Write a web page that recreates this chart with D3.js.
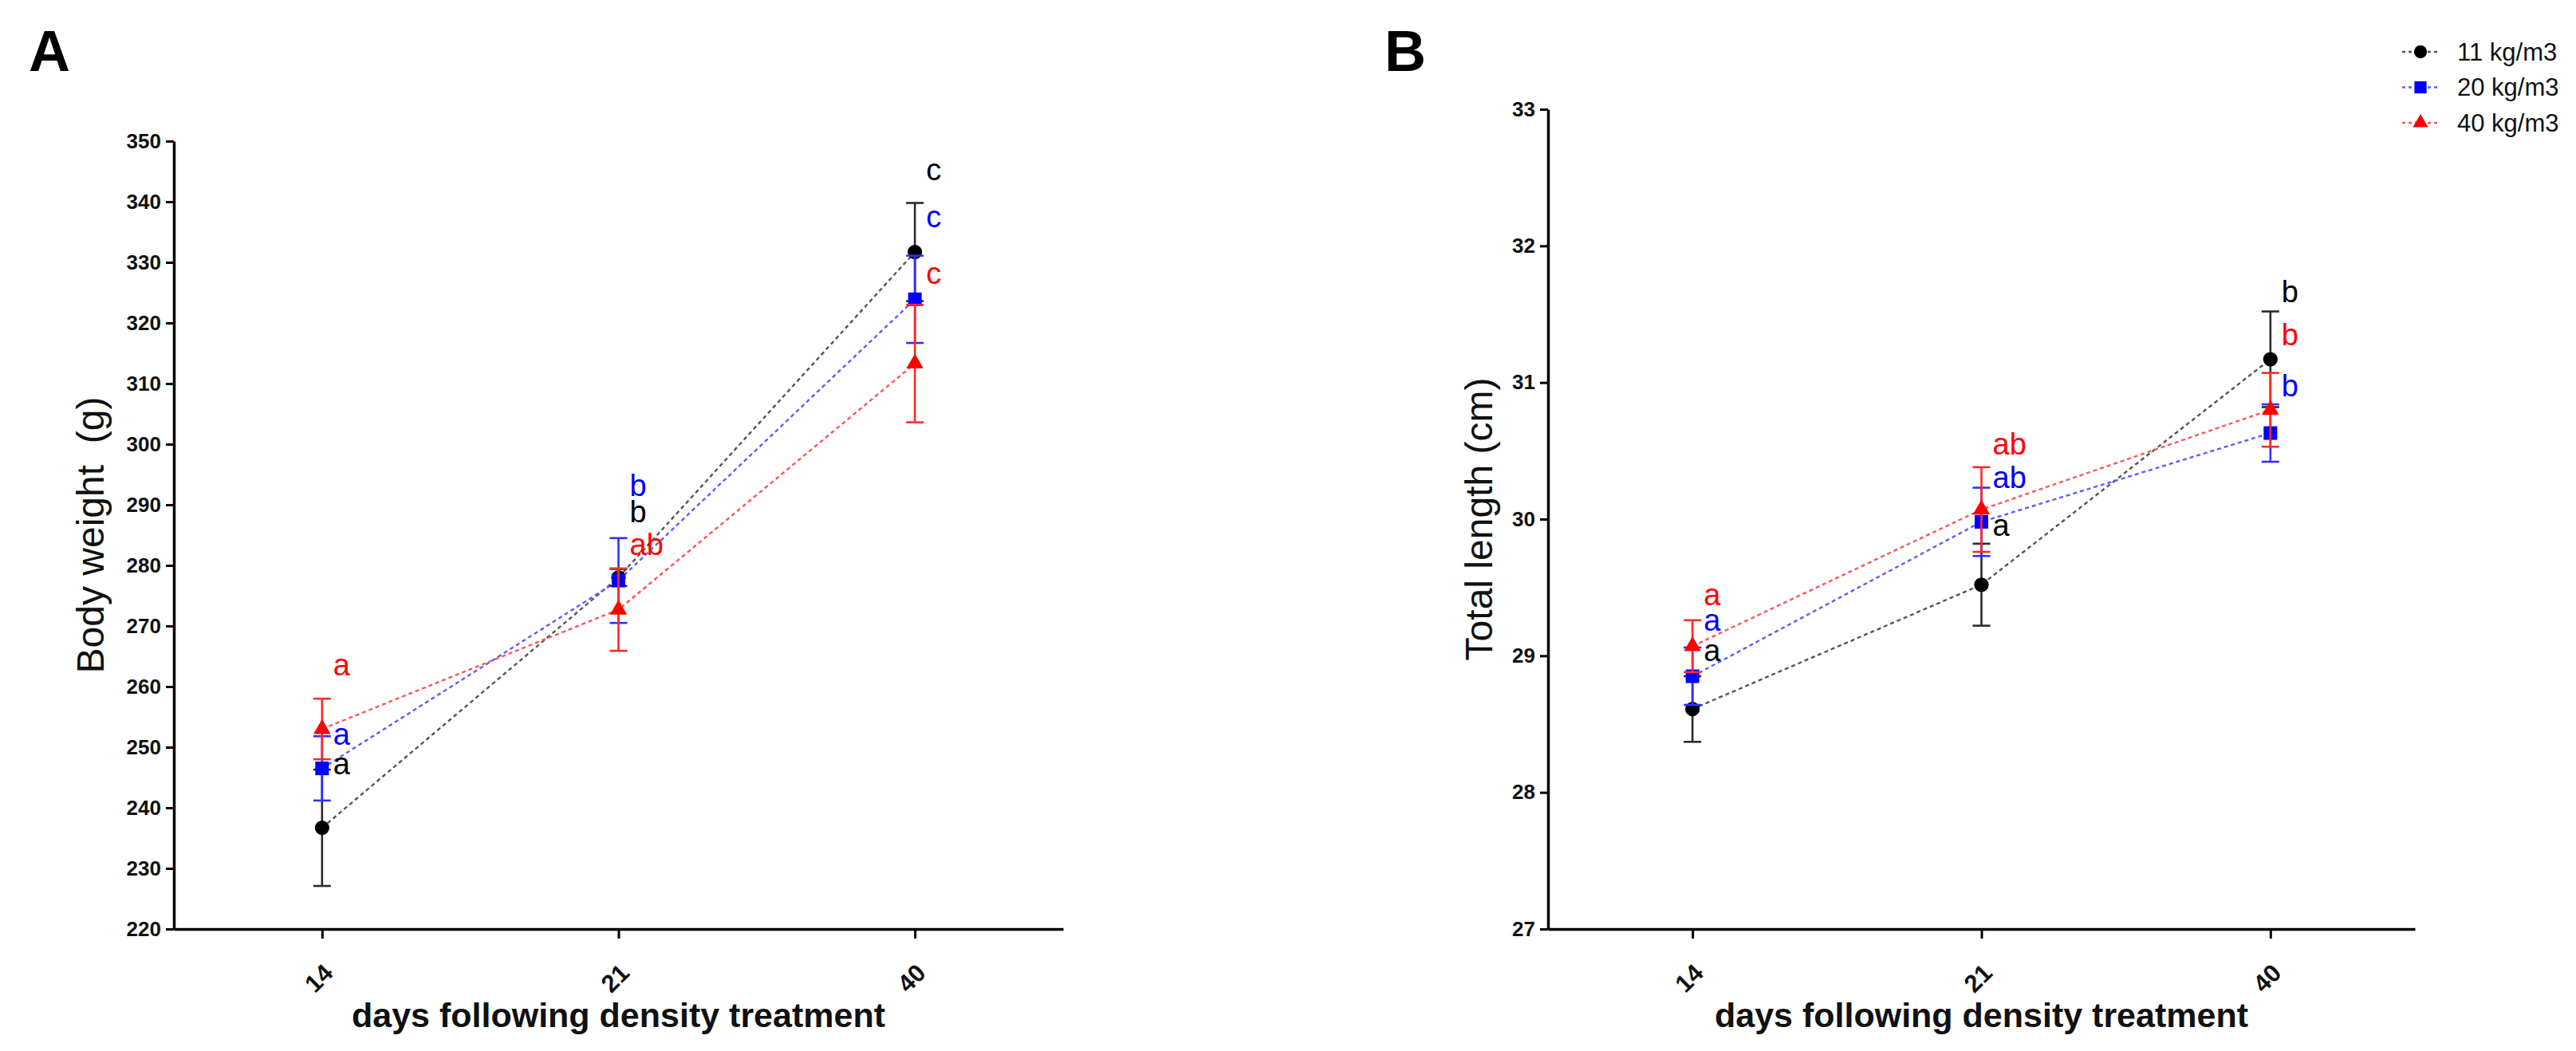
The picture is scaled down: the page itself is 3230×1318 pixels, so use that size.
<!DOCTYPE html>
<html>
<head>
<meta charset="utf-8">
<script src="https://cdn.jsdelivr.net/npm/d3@7"></script>
<style>
  body { margin: 0; background: #fff; }
  text { font-family: Arial, "Liberation Sans", sans-serif; white-space: pre; }
</style>
</head>
<body>
<script>

// ----- data -----
let days = ["14", "21", "40"]
let groups = ["11 kg/m3", "20 kg/m3", "40 kg/m3"]

// panel A : body weight (g), mean and SEM
let weight11 = [236.7, 278.0, 331.7]
let weight20 = [246.5, 277.5, 323.9]
let weight40 = [253.0, 272.7, 313.3]
let weight11Sem = [9.6, 1.4, 8.1]
let weight20Sem = [5.3, 7.0, 7.2]
let weight40Sem = [5.0, 6.8, 9.7]
let weight11Letters = ["a", "b", "c"]
let weight20Letters = ["a", "b", "c"]
let weight40Letters = ["a", "ab", "c"]
let weight11LetterAt = [245.5, 287.1, 343.6]
let weight20LetterAt = [250.4, 291.4, 335.8]
let weight40LetterAt = [261.8, 281.7, 326.4]
let weightTicks = [220, 230, 240, 250, 260, 270, 280, 290, 300, 310, 320, 330, 340, 350]

// panel B : total length (cm), mean and SEM
let length11 = [28.61, 29.52, 31.17]
let length20 = [28.85, 29.98, 30.63]
let length40 = [29.07, 30.07, 30.80]
let length11Sem = [0.24, 0.30, 0.35]
let length20Sem = [0.21, 0.25, 0.21]
let length40Sem = [0.19, 0.31, 0.27]
let length11Letters = ["a", "a", "b"]
let length20Letters = ["a", "ab", "b"]
let length40Letters = ["a", "ab", "b"]
let length11LetterAt = [28.96, 29.88, 31.59]
let length20LetterAt = [29.18, 30.23, 30.90]
let length40LetterAt = [29.37, 30.47, 31.27]
let lengthTicks = [27, 28, 29, 30, 31, 32, 33]

// ----- styles -----
let lineColors = ["#555555", "#5c5cff", "#ff5555"]
let barColors = ["#2a2a2a", "#3030ff", "#ff2a2a"]
let markColors = ["#000000", "#0000ff", "#ff0000"]
let letterColors = ["#000000", "#0000ff", "#ff0000"]
let shapes = [d3.symbolCircle, d3.symbolSquare, d3.symbolTriangle]
let shapeSizes = [260, 290, 200]

let width = 3230
let height = 1318

let svg = d3.select("body")
            .append("svg")
            .attr("width", width)
            .attr("height", height)

let drawPanel = (p) => {

    let xScale = d3.scalePoint()
                   .domain(days)
                   .range([p.left, p.right])
                   .padding(0.5)

    let yScale = d3.scaleLinear()
                   .domain([p.ticks[0], p.ticks[p.ticks.length - 1]])
                   .range([p.bottom, p.top])

    let g = svg.append("g")

    // y axis
    let yAxis = d3.axisLeft(yScale)
                  .tickValues(p.ticks)
                  .tickFormat(d3.format("d"))
                  .tickSize(10)
                  .tickSizeOuter(0)
                  .tickPadding(6)
    let ya = g.append("g")
              .attr("transform", "translate(" + p.left + ",0)")
              .call(yAxis)
    ya.select(".domain").attr("stroke-width", 3.5)
    ya.selectAll(".tick line").attr("stroke-width", 3)
    ya.selectAll(".tick text")
      .attr("font-size", 26)
      .attr("font-weight", "bold")
      .attr("fill", "#111")

    // x axis
    let xAxis = d3.axisBottom(xScale)
                  .tickSize(12)
                  .tickSizeOuter(0)
    let xa = g.append("g")
              .attr("transform", "translate(0," + p.bottom + ")")
              .call(xAxis)
    xa.select(".domain").attr("stroke-width", 3.5)
    xa.selectAll(".tick line").attr("stroke-width", 3)
    xa.selectAll(".tick text")
      .attr("font-size", 31)
      .attr("font-weight", "bold")
      .attr("fill", "#111")
      .attr("text-anchor", "end")
      .attr("dy", null)
      .attr("y", null)
      .attr("transform", "translate(15,57) rotate(-45)")

    // axis titles
    g.append("text")
     .attr("transform", "translate(" + p.titleX + "," + ((p.top + p.bottom) / 2) + ") rotate(-90)")
     .attr("text-anchor", "middle")
     .attr("font-size", 48)
     .attr("fill", "#111")
     .text(p.yTitle)

    g.append("text")
     .attr("x", (p.left + p.right) / 2)
     .attr("y", 1288)
     .attr("text-anchor", "middle")
     .attr("font-size", 43)
     .attr("font-weight", "bold")
     .attr("fill", "#111")
     .text("days following density treatment")

    g.append("text")
     .attr("x", p.tagX)
     .attr("y", 89)
     .attr("font-size", 72)
     .attr("font-weight", "bold")
     .attr("fill", "#000")
     .text(p.tag)

    let line = d3.line()
                 .x((d, i) => xScale(days[i]))
                 .y((d) => yScale(d))

    // dotted connecting lines
    p.means.forEach((m, s) => {
        g.append("path")
         .attr("d", line(m))
         .attr("fill", "none")
         .attr("stroke", lineColors[s])
         .attr("stroke-width", 2.4)
         .attr("stroke-dasharray", "5,4")
    })

    // error bars and markers
    p.means.forEach((m, s) => {
        let bars = g.append("g")
                    .attr("stroke", barColors[s])
                    .attr("stroke-width", 2.6)
        m.forEach((v, i) => {
            let x = xScale(days[i])
            let hi = yScale(v + p.sems[s][i])
            let lo = yScale(v - p.sems[s][i])
            bars.append("line").attr("x1", x).attr("x2", x).attr("y1", hi).attr("y2", lo)
            bars.append("line").attr("x1", x - 11).attr("x2", x + 11).attr("y1", hi).attr("y2", hi)
            bars.append("line").attr("x1", x - 11).attr("x2", x + 11).attr("y1", lo).attr("y2", lo)
        })
        g.selectAll(null)
         .data(m)
         .enter()
         .append("path")
         .attr("d", d3.symbol().type(shapes[s]).size(shapeSizes[s]))
         .attr("transform", (d, i) => "translate(" + xScale(days[i]) + "," + yScale(d) + ")")
         .attr("fill", markColors[s])
    })

    // significance letters
    p.letters.forEach((ls, s) => {
        g.selectAll(null)
         .data(ls)
         .enter()
         .append("text")
         .attr("x", (d, i) => xScale(days[i]) + 14)
         .attr("y", (d, i) => yScale(p.letterAt[s][i]))
         .attr("font-size", 38)
         .attr("fill", letterColors[s])
         .text((d) => d)
    })

    return g
}

drawPanel({
    left: 218, right: 1333, top: 177, bottom: 1165,
    ticks: weightTicks,
    titleX: 130,
    tagX: 36,
    tag: "A",
    yTitle: "Body weight  (g)",
    means: [weight11, weight20, weight40],
    sems: [weight11Sem, weight20Sem, weight40Sem],
    letters: [weight11Letters, weight20Letters, weight40Letters],
    letterAt: [weight11LetterAt, weight20LetterAt, weight40LetterAt]
})

drawPanel({
    left: 1941, right: 3028, top: 137, bottom: 1165,
    ticks: lengthTicks,
    titleX: 1871,
    tagX: 1736,
    tag: "B",
    yTitle: "Total length (cm)",
    means: [length11, length20, length40],
    sems: [length11Sem, length20Sem, length40Sem],
    letters: [length11Letters, length20Letters, length40Letters],
    letterAt: [length11LetterAt, length20LetterAt, length40LetterAt]
})

// legend
let legendY = d3.scalePoint()
                .domain(groups)
                .range([65, 154])

let legend = svg.append("g")

groups.forEach((name, s) => {
    let y = legendY(name)
    legend.append("line")
          .attr("x1", 3012).attr("x2", 3058)
          .attr("y1", y).attr("y2", y)
          .attr("stroke", lineColors[s])
          .attr("stroke-width", 2.4)
          .attr("stroke-dasharray", "4,4")
    legend.append("path")
          .attr("d", d3.symbol().type(shapes[s]).size(shapeSizes[s] * 0.8))
          .attr("transform", "translate(3035," + y + ")")
          .attr("fill", markColors[s])
    legend.append("text")
          .attr("x", 3081)
          .attr("y", y)
          .attr("dy", "0.35em")
          .attr("font-size", 31)
          .attr("fill", "#111")
          .text(name)
})

</script>
</body>
</html>
